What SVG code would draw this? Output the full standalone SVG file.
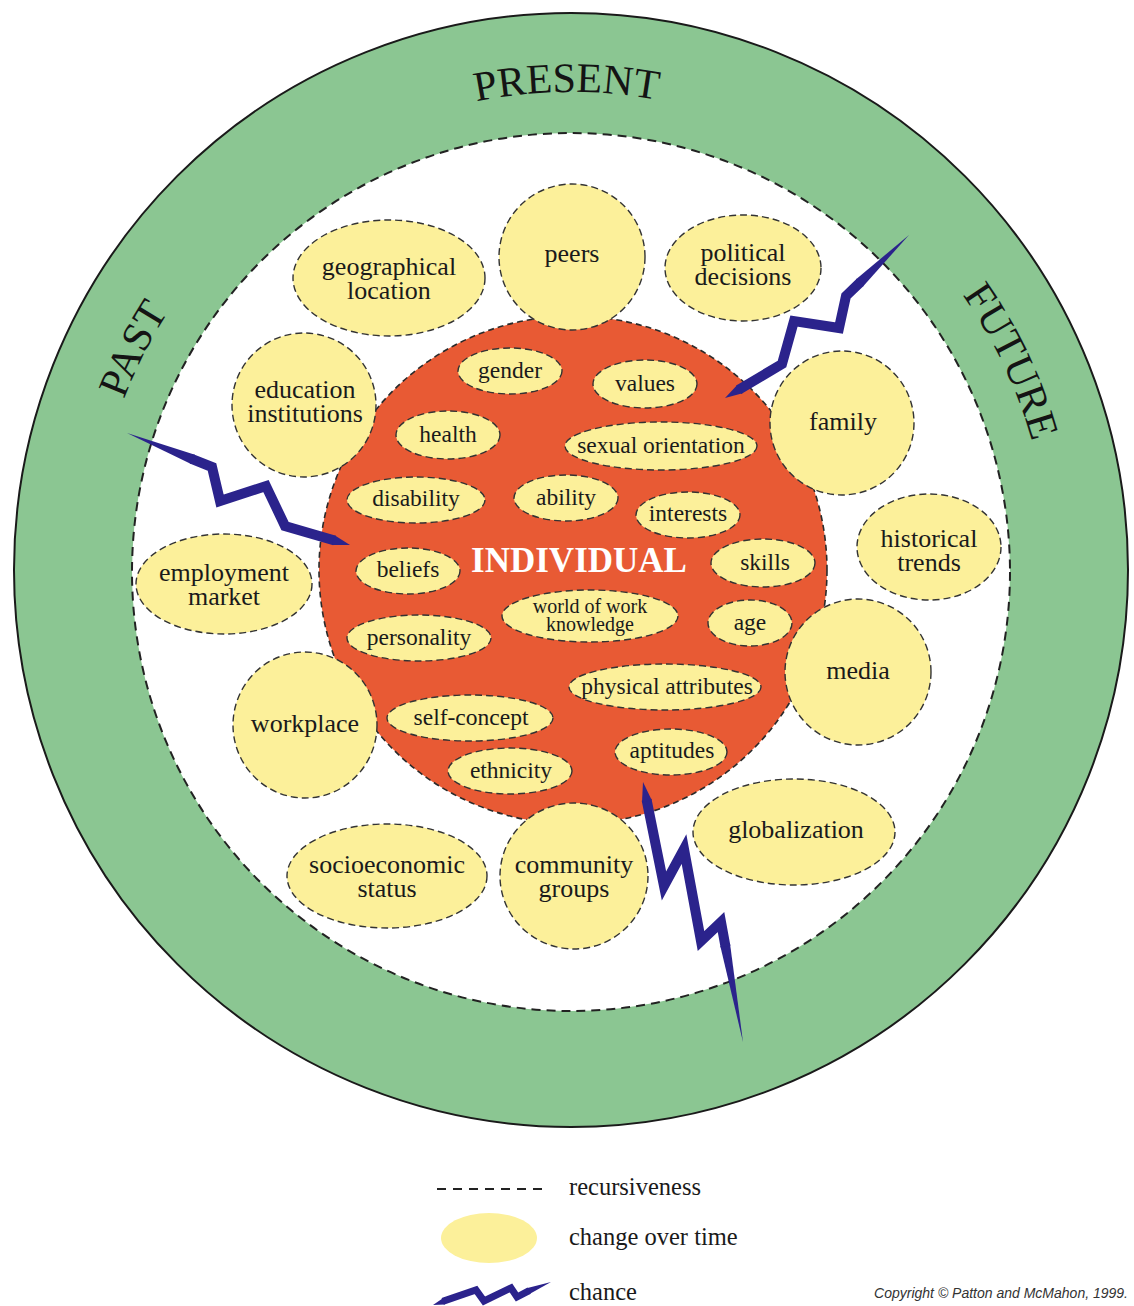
<svg xmlns="http://www.w3.org/2000/svg" width="1134" height="1306" viewBox="0 0 1134 1306">
<style>
.ring{fill:#8bc692;stroke:#1a1a1a;stroke-width:2}
.field{fill:#ffffff;stroke:#222;stroke-width:2;stroke-dasharray:9 6}
.core{fill:#e85a34;stroke:#2a2a2a;stroke-width:1.6;stroke-dasharray:6 4}
.ell{fill:#fcf09a;stroke:#333;stroke-width:1.4;stroke-dasharray:7 4}
.t{font-family:"Liberation Serif","Times New Roman",serif;fill:#1a1a1a;text-anchor:middle}
.o{font-size:26px}
.i{font-size:23.5px}
.w{font-size:20px}
.rl{font-family:"Liberation Serif","Times New Roman",serif;font-size:42px;fill:#141414;text-anchor:middle}
.bolt{fill:none;stroke:#2b238c;stroke-width:10;stroke-linejoin:miter;stroke-miterlimit:20}
.bf{fill:#2b238c}
.leg{font-family:"Liberation Serif","Times New Roman",serif;font-size:24.5px;fill:#1a1a1a}
</style>
<defs>
<path id="arc" d="M 92,571 A 479,479 0 1 1 1050,571 A 479,479 0 1 1 92,571"/>
</defs>

<g id="time-ring">
<circle class="ring" cx="571" cy="570" r="557"/>
<circle class="field" cx="571" cy="572" r="439"/>
<text class="rl"><textPath href="#arc" startOffset="225">PAST</textPath></text>
<text class="rl"><textPath href="#arc" startOffset="748">PRESENT</textPath></text>
<text class="rl"><textPath href="#arc" startOffset="1292">FUTURE</textPath></text>
</g>

<g id="individual">
<circle class="core" cx="573" cy="570" r="254"/>
</g>

<g id="geographical-location"><ellipse class="ell" cx="389" cy="278" rx="96" ry="58"/><text class="t o" x="389" y="275">geographical</text><text class="t o" x="389" y="299">location</text></g>
<g id="peers"><ellipse class="ell" cx="572" cy="257" rx="73" ry="73"/><text class="t o" x="572" y="262">peers</text></g>
<g id="political-decisions"><ellipse class="ell" cx="743" cy="268" rx="78" ry="53"/><text class="t o" x="743" y="261">political</text><text class="t o" x="743" y="285">decisions</text></g>
<g id="education-institutions"><ellipse class="ell" cx="304" cy="405" rx="72" ry="72"/><text class="t o" x="305" y="398">education</text><text class="t o" x="305" y="422">institutions</text></g>
<g id="family"><ellipse class="ell" cx="842" cy="423" rx="72" ry="72"/><text class="t o" x="843" y="430">family</text></g>
<g id="historical-trends"><ellipse class="ell" cx="929" cy="547" rx="72" ry="53"/><text class="t o" x="929" y="547">historical</text><text class="t o" x="929" y="571">trends</text></g>
<g id="employment-market"><ellipse class="ell" cx="224" cy="584" rx="88" ry="50"/><text class="t o" x="224" y="581">employment</text><text class="t o" x="224" y="605">market</text></g>
<g id="media"><ellipse class="ell" cx="858" cy="672" rx="73" ry="73"/><text class="t o" x="858" y="679">media</text></g>
<g id="workplace"><ellipse class="ell" cx="305" cy="725" rx="72" ry="73"/><text class="t o" x="305" y="732">workplace</text></g>
<g id="globalization"><ellipse class="ell" cx="794" cy="832" rx="101" ry="53"/><text class="t o" x="796" y="838">globalization</text></g>
<g id="socioeconomic-status"><ellipse class="ell" cx="387" cy="876" rx="100" ry="52"/><text class="t o" x="387" y="873">socioeconomic</text><text class="t o" x="387" y="897">status</text></g>
<g id="community-groups"><ellipse class="ell" cx="574" cy="876" rx="74" ry="73"/><text class="t o" x="574" y="873">community</text><text class="t o" x="574" y="897">groups</text></g>

<g id="gender"><ellipse class="ell" cx="510" cy="371" rx="52" ry="23"/><text class="t i" x="510" y="378">gender</text></g>
<g id="values"><ellipse class="ell" cx="645" cy="384" rx="52" ry="24"/><text class="t i" x="645" y="391">values</text></g>
<g id="health"><ellipse class="ell" cx="448" cy="435" rx="52" ry="24"/><text class="t i" x="448" y="442">health</text></g>
<g id="sexual-orientation"><ellipse class="ell" cx="661" cy="446" rx="96" ry="24"/><text class="t i" x="661" y="453">sexual orientation</text></g>
<g id="disability"><ellipse class="ell" cx="416" cy="500" rx="69" ry="23"/><text class="t i" x="416" y="506">disability</text></g>
<g id="ability"><ellipse class="ell" cx="566" cy="498" rx="52" ry="23"/><text class="t i" x="566" y="505">ability</text></g>
<g id="interests"><ellipse class="ell" cx="688" cy="515" rx="52" ry="23"/><text class="t i" x="688" y="521">interests</text></g>
<g id="beliefs"><ellipse class="ell" cx="408" cy="571" rx="52" ry="23"/><text class="t i" x="408" y="577">beliefs</text></g>
<g id="skills"><ellipse class="ell" cx="763" cy="563" rx="52" ry="24"/><text class="t i" x="765" y="570">skills</text></g>
<g id="world-of-work-knowledge"><ellipse class="ell" cx="590" cy="616" rx="88" ry="26"/><text class="t w" x="590" y="613">world of work</text><text class="t w" x="590" y="631">knowledge</text></g>
<g id="age"><ellipse class="ell" cx="750" cy="623" rx="42" ry="23"/><text class="t i" x="750" y="630">age</text></g>
<g id="personality"><ellipse class="ell" cx="419" cy="638" rx="72" ry="23"/><text class="t i" x="419" y="645">personality</text></g>
<g id="physical-attributes"><ellipse class="ell" cx="665" cy="687" rx="96" ry="23"/><text class="t i" x="667" y="694">physical attributes</text></g>
<g id="self-concept"><ellipse class="ell" cx="470" cy="718" rx="83" ry="23"/><text class="t i" x="471" y="725">self-concept</text></g>
<g id="aptitudes"><ellipse class="ell" cx="671" cy="752" rx="56" ry="23"/><text class="t i" x="672" y="758">aptitudes</text></g>
<g id="ethnicity"><ellipse class="ell" cx="510" cy="771" rx="62" ry="23"/><text class="t i" x="511" y="778">ethnicity</text></g>

<text x="579" y="572" style="font-family:'Liberation Serif','Times New Roman',serif;font-size:35px;font-weight:bold;fill:#ffffff;text-anchor:middle">INDIVIDUAL</text>

<g id="chance">
<g id="bolt-left">
<polygon class="bf" points="127,433 194.9,454.8 191.1,464"/>
<polyline class="bolt" points="191.6,458.8 212,467 220,501 266,486 285,526 334.6,540.5"/>
<polygon class="bf" points="331.8,544.9 334.6,535.3 350,545"/>
</g>
<g id="bolt-right">
<polygon class="bf" points="909,235 855.8,279.5 862.8,286.7"/>
<polyline class="bolt" points="860.4,282.1 846,296 839,328 794,321 782,364 738.7,389.8"/>
<polygon class="bf" points="737.4,384.7 742.6,393.3 725,398"/>
</g>
<g id="bolt-bottom">
<polygon class="bf" points="743,1042 730.1,944.2 720.3,946"/>
<polyline class="bolt" points="725.5,946.6 721,922 701,941 684,849 664,886 646.6,799.7"/>
<polygon class="bf" points="651.8,800.2 642,802.2 643,782"/>
</g>
</g>

<g id="legend">
<line x1="437" y1="1189" x2="546" y2="1189" stroke="#222" stroke-width="2" stroke-dasharray="9 7"/>
<text class="leg" x="569" y="1195">recursiveness</text>
<ellipse cx="489" cy="1238" rx="48" ry="25" fill="#fcf09a"/>
<text class="leg" x="569" y="1245">change over time</text>
<polygon class="bf" points="551,1282 526.5,1288.2 529.1,1294.2"/>
<polyline points="529.2,1290.6 517,1297 511,1288 484,1301 476,1290 442.7,1301.4" fill="none" stroke="#2b238c" stroke-width="7" stroke-linejoin="miter" stroke-miterlimit="20"/>
<polygon class="bf" points="443.2,1298 444.9,1304.5 433,1305"/>
<text class="leg" x="569" y="1300">chance</text>
<text x="1128" y="1298" style="font-family:'Liberation Sans',Arial,sans-serif;font-size:14px;font-style:italic;fill:#333;text-anchor:end">Copyright © Patton and McMahon, 1999.</text>
</g>
</svg>
